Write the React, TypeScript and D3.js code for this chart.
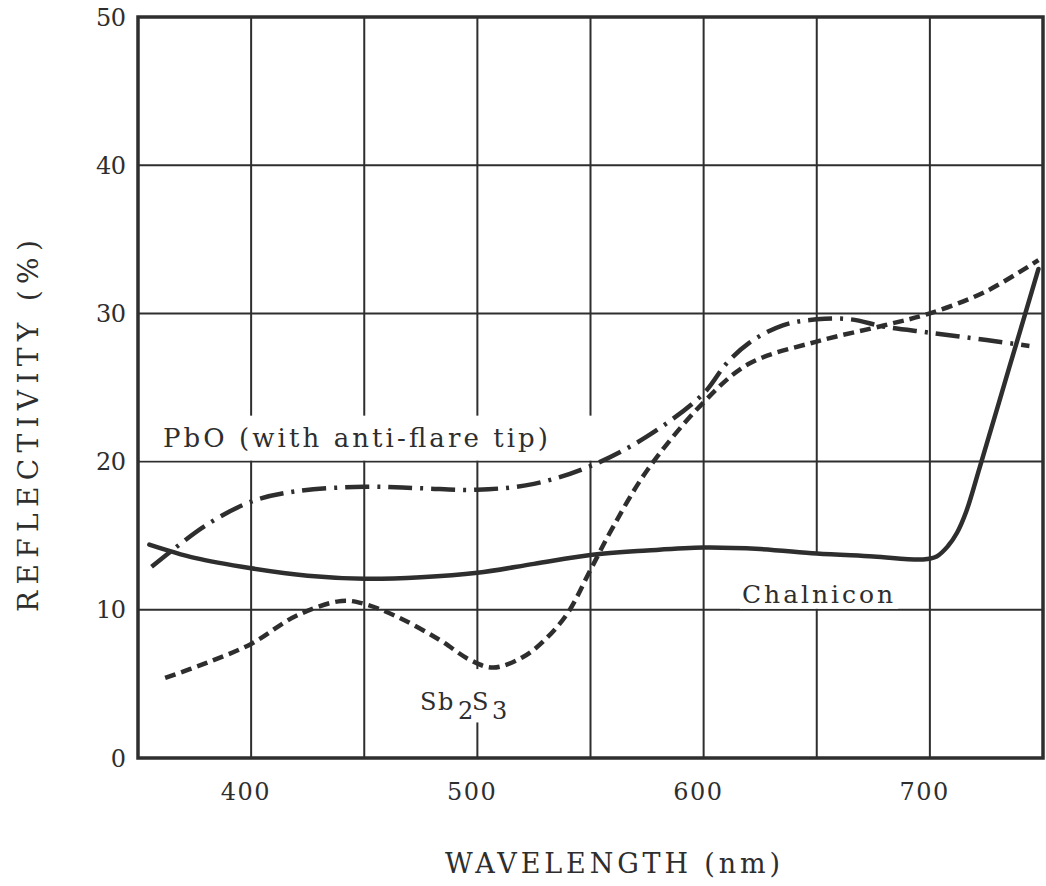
import React from "react";
import * as d3 from "d3";

// wavelength (nm) / reflectivity (%)
const chalnicon: [number, number][] = [
  [355, 14.4], [375, 13.5], [400, 12.8], [425, 12.3], [450, 12.1], [475, 12.2],
  [500, 12.5], [525, 13.1], [550, 13.7], [575, 14.0], [600, 14.2], [625, 14.1],
  [650, 13.8], [675, 13.6], [697, 13.4], [703, 13.6], [708, 14.3], [712, 15.2],
  [716, 16.6], [722, 19.6], [735, 26.3], [748, 33.0],
];
const pbo: [number, number][] = [
  [356, 12.9], [365, 14.0], [380, 15.7], [400, 17.3], [420, 18.0], [450, 18.3],
  [475, 18.2], [500, 18.1], [525, 18.5], [550, 19.7], [575, 21.7], [600, 24.6],
  [610, 26.6], [620, 28.0], [635, 29.2], [650, 29.6], [665, 29.6], [680, 29.1],
  [700, 28.7], [725, 28.2], [744, 27.8],
];
const sb2s3: [number, number][] = [
  [362, 5.4], [380, 6.4], [400, 7.7], [420, 9.6], [440, 10.6], [450, 10.4],
  [465, 9.5], [483, 8.0], [497, 6.6], [507, 6.1], [520, 6.8], [530, 8.0],
  [540, 9.8], [550, 12.7], [560, 15.6], [575, 19.4], [600, 24.0], [620, 26.6],
  [650, 28.1], [680, 29.2], [700, 30.0], [725, 31.5], [748, 33.6],
];
const xGrid = [400, 450, 500, 550, 600, 650, 700];
const xLabels = [400, 500, 600, 700];
const yTicks = [0, 10, 20, 30, 40, 50];

const width = 1046;
const height = 886;
const margin = { top: 17, right: 3, bottom: 128, left: 138 };
const ink = "#2e2e2e";
const font = "'DejaVu Serif', serif";

export default function App() {
  const x = d3.scaleLinear().domain([350, 750]).range([margin.left, width - margin.right]);
  const y = d3.scaleLinear().domain([0, 50]).range([height - margin.bottom, margin.top]);
  const line = d3.line<[number, number]>()
    .x(d => x(d[0]))
    .y(d => y(d[1]))
    .curve(d3.curveCatmullRom.alpha(0.5));

  return (
    <svg width={width} height={height} style={{ position: "absolute", left: 0, top: 0, background: "#fff" }}>
      <g stroke={ink} strokeWidth={2}>
        {xGrid.map(v => (
          <line key={"vx" + v} x1={x(v)} x2={x(v)} y1={y(0)} y2={y(50)} />
        ))}
        {yTicks.map(v => (
          <line key={"hy" + v} x1={x(350)} x2={x(750)} y1={y(v)} y2={y(v)} />
        ))}
      </g>

      {/* white patches behind the in-plot labels */}
      <rect x={x(350) + 2} y={y(23.1)} width={x(555) - x(350)} height={y(20) - y(23.1) - 1} fill="#fff" />
      <rect x={x(616)} y={y(13.8)} width={x(686) - x(616)} height={y(10) - y(13.8) - 1} fill="#fff" />
      <rect x={x(474)} y={y(6.0)} width={x(515) - x(474)} height={y(2.4) - y(6.0)} fill="#fff" />

      <rect x={x(350)} y={y(50)} width={x(750) - x(350)} height={y(0) - y(50)}
        fill="none" stroke={ink} strokeWidth={3.5} />

      <path d={line(chalnicon) ?? ""} fill="none" stroke={ink} strokeWidth={4.5} strokeLinecap="round" />
      <path d={line(sb2s3) ?? ""} fill="none" stroke={ink} strokeWidth={4.5} strokeDasharray="11 6" />
      <path d={line(pbo) ?? ""} fill="none" stroke={ink} strokeWidth={4.5} strokeDasharray="24 8 3 8" />

      <g fontFamily={font} fill={ink} fontSize={24}>
        {yTicks.map(v => (
          <text key={"ty" + v} x={x(350) - 12} y={y(v)} dy="0.36em" textAnchor="end"
            textLength={String(v).length * 15} lengthAdjust="spacing">{v}</text>
        ))}
        {xLabels.map(v => (
          <text key={"tx" + v} x={x(v) - 6} y={800} textAnchor="middle"
            textLength={49} lengthAdjust="spacing">{v}</text>
        ))}
        <text x={163} y={447} fontSize={26} textLength={385} lengthAdjust="spacing">PbO (with anti-flare tip)</text>
        <text x={742} y={603} fontSize={25} textLength={151} lengthAdjust="spacing">Chalnicon</text>
        <text y={710} fontSize={24}>
          <tspan x={420}>S</tspan>
          <tspan x={438}>b</tspan>
          <tspan x={458} y={719}>2</tspan>
          <tspan x={472} y={710}>S</tspan>
          <tspan x={492} y={719}>3</tspan>
        </text>
        <text x={445} y={873} fontSize={27} textLength={335} lengthAdjust="spacing">WAVELENGTH  (nm)</text>
        <text transform="translate(38,426) rotate(-90)" textAnchor="middle" fontSize={28}
          textLength={372} lengthAdjust="spacing">
          REFLECTIVITY (%)
        </text>
      </g>
    </svg>
  );
}
